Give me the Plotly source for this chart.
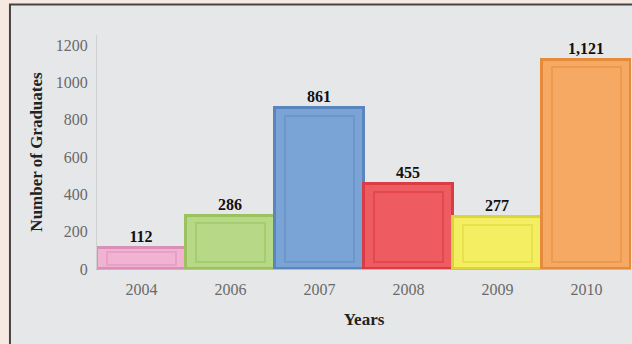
import plotly.graph_objects as go

years = ["2004", "2006", "2007", "2008", "2009", "2010"]
graduates = [112, 286, 861, 455, 277, 1121]
fill_colors = ["#f2b3d3", "#b7d987", "#7ba4d6", "#ee5b60", "#f3ee62", "#f5a963"]
edge_colors = ["#d98fb6", "#9cc25f", "#5b86bd", "#d93c43", "#dcd43a", "#e48b3e"]
inner_colors = ["#e9a0c6", "#a6cc72", "#6d96cb", "#e34850", "#e7e14c", "#ed9a4f"]
y_ticks = [0, 200, 400, 600, 800, 1000, 1200]

serif = "Liberation Serif, Times New Roman, serif"

fig = go.Figure()
fig.add_trace(go.Bar(
    x=years, y=graduates,
    marker=dict(color=fill_colors, line=dict(color=edge_colors, width=3)),
    width=1.0,
    text=graduates, texttemplate="<b>%{y:,}</b>", textposition="outside",
    textfont=dict(family=serif, size=16, color="#111111"),
    cliponaxis=False, hoverinfo="x+y", showlegend=False,
))
# inner bevel frame
inset = [min(40, v * 0.2) for v in graduates]
fig.add_trace(go.Bar(
    x=years, y=[v - 2 * i for v, i in zip(graduates, inset)], base=inset,
    marker=dict(color="rgba(0,0,0,0)", line=dict(color=inner_colors, width=2)),
    width=0.78, hoverinfo="skip", showlegend=False,
))

fig.update_layout(
    width=632, height=344,
    barmode="overlay", bargap=0,
    paper_bgcolor="#f6e9e1", plot_bgcolor="rgba(0,0,0,0)",
    margin=dict(l=97, r=1, t=35, b=75, autoexpand=False),
    font=dict(family=serif, color="#666666"),
    shapes=[dict(type="rect", xref="paper", yref="paper",
                 x0=-0.163, x1=1.1, y0=-0.5, y1=1.13,
                 fillcolor="#e6e7e9", line=dict(color="#444444", width=2),
                 layer="below")],
    xaxis=dict(
        type="category", showgrid=False, automargin=False,
        showline=True, linecolor="#bbbbbb", linewidth=1,
        ticks="", ticklabelstandoff=6,
        tickfont=dict(family=serif, size=16, color="#6a6a6a"),
        title=dict(text="<b>Years</b>", font=dict(family=serif, size=17, color="#222222"), standoff=15),
    ),
    yaxis=dict(
        range=[0, 1253], tickvals=y_ticks, showgrid=False, zeroline=False,
        showline=True, linecolor="#d0d0d0", linewidth=1, automargin=False,
        ticks="", ticklabelstandoff=5,
        tickfont=dict(family=serif, size=16, color="#6a6a6a"),
        title=dict(text="<b>Number of Graduates</b>", font=dict(family=serif, size=17, color="#222222"), standoff=8),
    ),
)

fig.write_html("out.html", config={"displayModeBar": False},
               post_script="document.body.style.margin='0';document.body.style.background='#f6e9e1';")
